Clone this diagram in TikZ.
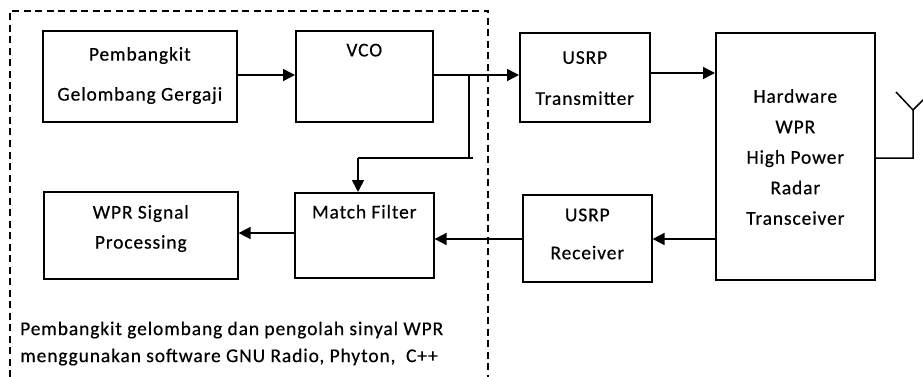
\documentclass[tikz,border=0pt]{standalone}
\usepackage{fontspec}
\setmainfont[LetterSpace=4.5,FakeBold=0.4]{Carlito}
\usetikzlibrary{arrows.meta}
\newcommand{\lbl}[3]{\raisebox{#1pt}[0pt][0pt]{\fontsize{19.5pt}{#2pt}\selectfont\begin{tabular}{@{}c@{}}#3\end{tabular}}}
\tikzset{
 blk/.style={draw=black,line width=1.6pt,inner sep=0pt,align=center},
 conn/.style={draw=black,line width=1.6pt,-{Triangle[length=12pt,width=12pt]}},
 plain/.style={draw=black,line width=1.6pt},
 note/.style={anchor=west,font=\fontsize{19.5pt}{24pt}\selectfont,inner sep=0pt}
}
\newcommand{\bx}[6]{\node[blk,minimum width=#4 pt,minimum height=#5 pt,anchor=north west] (#1) at (#2pt,-#3pt) {#6};}
\begin{document}
\begin{tikzpicture}[x=1pt,y=1pt]
\useasboundingbox (0,0) rectangle (923pt,-377pt);
\bx{pg}{42}{30}{194}{91}{\lbl{-1.5}{40}{Pembangkit\\Gelombang Gergaji}}
\bx{vco}{295}{30}{137}{91}{\lbl{19.5}{24}{VCO}}
\bx{tx}{519}{32}{130}{89}{\lbl{-4}{41}{USRP\\Transmitter}}
\bx{hw}{715}{32}{159}{247}{\lbl{-6.5}{30.5}{Hardware\\WPR\\High Power\\Radar\\Transceiver}}
\bx{wsp}{43}{191}{194}{87}{\lbl{2.5}{30}{WPR Signal\\Processing}}
\bx{mf}{294}{192}{139}{85}{\lbl{16.5}{24}{Match Filter}}
\bx{rx}{522}{194}{129}{87}{\lbl{0.5}{38}{USRP\\Receiver}}
\draw[conn] (pg.east|-0,-75) -- (vco.west|-0,-75);
\draw[conn] (vco.east|-0,-75) -- (tx.west|-0,-75);
\draw[conn] (tx.east|-0,-73) -- (hw.west|-0,-73);
\coordinate (j1) at (469pt,-75pt);
\coordinate (j2) at (469pt,-158pt);
\coordinate (j0) at (473pt,-158pt);
\coordinate (j3) at (358pt,-158pt);
\draw[plain] (j1) -- (j2);
\draw[plain] (j0) -- (j3);
\draw[conn] (j3) -- (j3|-mf.north);
\draw[conn] (hw.west|-0,-239) -- (rx.east|-0,-239);
\draw[conn] (rx.west|-0,-239) -- (mf.east|-0,-239);
\draw[conn] (mf.west|-0,-233) -- (wsp.east|-0,-233);
\coordinate (a1) at (913pt,-158pt);
\coordinate (a2) at (913pt,-110pt);
\coordinate (a3) at (896pt,-92pt);
\coordinate (a4) at (923pt,-100pt);
\draw[line width=1.5pt] (hw.east|-a1) -- (a1) -- (a2) -- (a3) (a2) -- (a4);
\coordinate (d0) at (10pt,-377pt);
\coordinate (d1) at (10pt,-11pt);
\coordinate (d2) at (488pt,-11pt);
\coordinate (d3) at (488pt,-377pt);
\draw[line width=1.3pt,dash pattern=on 7pt off 4.5pt] (d0) -- (d1) -- (d2) -- (d3);
\node[note] (t1) at (20pt,-330pt) {Pembangkit gelombang dan pengolah sinyal WPR};
\node[note] (t2) at (20pt,-357pt) {menggunakan software GNU Radio, Phyton,\ \ C++};
\end{tikzpicture}
\end{document}
